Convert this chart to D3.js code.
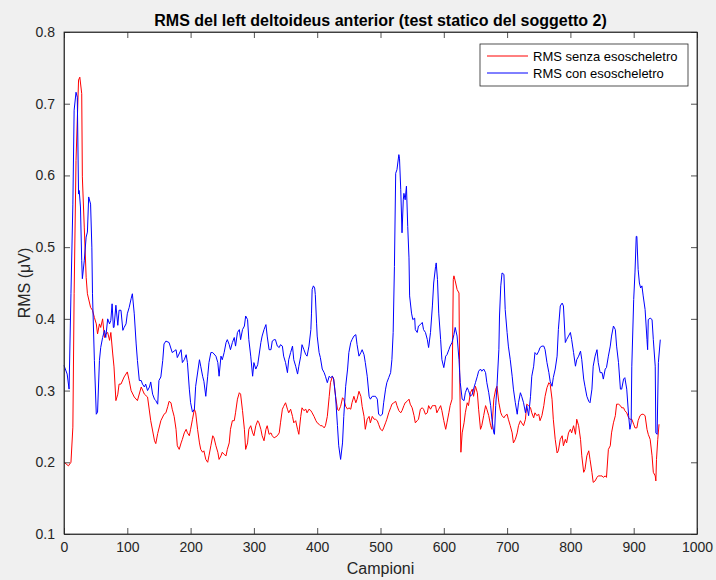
<!DOCTYPE html>
<html>
<head>
<meta charset="utf-8">
<script src="https://d3js.org/d3.v7.min.js"></script>
<style>
  body { margin: 0; background: #f0f0f0; }
  svg { display: block; font-family: "Liberation Sans", Arial, Helvetica, sans-serif; }
  .axis path, .axis line { stroke: #262626; stroke-width: 0.8; }
  .axis text { fill: #262626; font-size: 14px; }
</style>
</head>
<body>
<div id="chart"></div>
<script>
// [campione, RMS]
var rmsSenza = [
  [0,0.2],[3,0.198],[7,0.195],[11,0.2],[14,0.249],[16,0.435],[19,0.621],[23,0.733],[25,0.737],[28,0.714],
  [29,0.598],[32,0.528],[35,0.458],[37,0.435],[42,0.416],[45,0.412],[48,0.402],[51,0.393],[53,0.379],[56,0.393],
  [58,0.388],[61,0.4],[64,0.374],[66,0.379],[69,0.381],[72,0.37],[74,0.381],[77,0.351],[79,0.333],[82,0.286],
  [85,0.295],[87,0.309],[90,0.309],[95,0.319],[100,0.326],[103,0.314],[106,0.3],[111,0.291],[116,0.286],[122,0.305],
  [127,0.295],[132,0.291],[137,0.258],[143,0.23],[145,0.226],[148,0.24],[153,0.258],[158,0.267],
  [161,0.269],[164,0.278],[166,0.285],[169,0.283],[171,0.274],[174,0.264],[177,0.246],[179,0.223],[182,0.218],[185,0.227],
  [187,0.232],[190,0.241],[193,0.246],[195,0.241],[198,0.237],[200,0.246],[203,0.26],[206,0.274],[208,0.269],[211,0.246],
  [214,0.227],[216,0.218],[219,0.214],[221,0.216],[224,0.204],[227,0.2],[229,0.209],[232,0.223],[235,0.237],[237,0.234],
  [240,0.223],[243,0.214],[245,0.204],[248,0.209],[250,0.214],[253,0.211],[256,0.209],[258,0.218],[261,0.227],[263,0.246],
  [266,0.258],[269,0.258],[271,0.269],[274,0.288],[277,0.297],[279,0.295],[282,0.272],[285,0.246],[287,0.218],[290,0.227],
  [292,0.246],[295,0.251],[298,0.241],[300,0.237],[303,0.251],[306,0.258],[308,0.255],[311,0.246],[313,0.237],[316,0.23],
  [319,0.246],[321,0.251],[324,0.239],
  [327,0.241],[329,0.237],[332,0.234],[337,0.237],[340,0.241],[342,0.255],[345,0.274],[347,0.278],[350,0.283],[353,0.274],
  [355,0.269],[358,0.274],[361,0.264],[363,0.255],[366,0.258],[369,0.246],[371,0.239],[374,0.264],[376,0.276],[379,0.272],
  [382,0.274],[384,0.269],[387,0.274],[390,0.272],[392,0.269],[395,0.264],[398,0.258],[400,0.255],[403,0.253],[405,0.251],
  [408,0.251],[411,0.248],[413,0.251],[416,0.264],[419,0.292],[421,0.311],[424,0.32],[426,0.316],[429,0.292],[432,0.274],
  [434,0.272],[437,0.278],[440,0.29],[442,0.288],[445,0.278],[448,0.274],[450,0.276],[453,0.274],[455,0.283],[458,0.292],
  [461,0.283],[463,0.288],[466,0.299],[469,0.292],[471,0.278],[474,0.264],[476,0.246],[479,0.26],[482,0.264],[484,0.255],
  [487,0.264],[490,0.26],
  [492,0.26],[495,0.258],[497,0.253],[500,0.246],[503,0.244],[505,0.248],[508,0.255],[510,0.26],[513,0.269],[516,0.276],
  [518,0.281],[521,0.283],[524,0.285],[526,0.279],[529,0.272],[532,0.269],[534,0.272],[537,0.279],[539,0.283],[542,0.285],
  [545,0.288],[547,0.281],[550,0.276],[553,0.265],[555,0.255],[558,0.258],[560,0.26],[563,0.274],[566,0.276],[568,0.274],
  [571,0.267],[574,0.269],[576,0.279],[579,0.274],[582,0.279],[584,0.279],[587,0.279],[589,0.269],[592,0.274],[595,0.279],
  [597,0.272],[600,0.258],[603,0.246],[605,0.255],[608,0.269],[610,0.279],[613,0.288],[615,0.455],[616,0.46],[618,0.453],
  [621,0.441],[624,0.436],[625,0.325],[627,0.214],[629,0.241],[632,0.255],[634,0.269],[637,0.283],[639,0.279],[642,0.297],
  [645,0.302],[647,0.292],[650,0.306],[653,0.297],[655,0.274],
  [658,0.246],[660,0.251],[663,0.265],[666,0.279],[668,0.274],[671,0.265],[674,0.251],[676,0.246],[679,0.288],[682,0.302],
  [684,0.306],[687,0.283],[690,0.269],[692,0.265],[695,0.262],[697,0.265],[700,0.267],[702,0.26],[705,0.251],[708,0.241],
  [710,0.227],[713,0.232],[716,0.241],[718,0.251],[721,0.258],[723,0.255],[726,0.251],[729,0.26],[731,0.281],[734,0.279],
  [737,0.276],[739,0.269],[742,0.262],[744,0.269],[747,0.265],[750,0.267],[752,0.258],[755,0.265],[758,0.279],[760,0.292],
  [763,0.304],[766,0.311],[768,0.309],[771,0.288],[773,0.26],[776,0.232],[779,0.213],[781,0.216],[784,0.232],[787,0.237],
  [789,0.223],[792,0.232],[794,0.227],[797,0.241],[800,0.246],[802,0.241],[805,0.251],[808,0.239],[810,0.26],[813,0.251],
  [816,0.232],[818,0.209],[821,0.186],
  [823,0.19],[826,0.209],[829,0.216],[831,0.204],[834,0.186],[836,0.172],[839,0.174],[842,0.179],[844,0.181],[847,0.181],
  [850,0.181],[852,0.179],[855,0.181],[857,0.179],[860,0.218],[863,0.223],[865,0.241],[868,0.255],[871,0.265],[873,0.281],
  [876,0.281],[879,0.279],[881,0.276],[884,0.276],[886,0.272],[889,0.269],[892,0.262],[894,0.26],[897,0.26],[900,0.253],
  [902,0.248],[905,0.248],[907,0.258],[910,0.265],[913,0.267],[915,0.267],[918,0.265],[921,0.246],[923,0.239],[926,0.232],
  [929,0.209],[931,0.186],[934,0.181],[935,0.174],[936,0.204],[938,0.232],[940,0.253]
];

var rmsCon = [
  [0,0.335],[5,0.323],[8,0.302],[11,0.435],[14,0.56],[16,0.691],[19,0.716],[21,0.709],[23,0.574],[24,0.579],
  [26,0.556],[28,0.481],[29,0.456],[32,0.481],[35,0.514],[37,0.521],[39,0.57],[42,0.56],[44,0.5],[45,0.435],
  [48,0.342],[51,0.267],[53,0.27],[56,0.342],[58,0.36],[61,0.374],[64,0.384],[66,0.374],[69,0.4],[72,0.393],
  [74,0.398],[76,0.421],[78,0.388],[79,0.388],[82,0.419],[85,0.391],[87,0.412],[90,0.412],[93,0.384],[95,0.388],
  [98,0.393],[100,0.407],[103,0.416],[106,0.428],[108,0.435],[111,0.407],[114,0.365],[116,0.342],[119,0.314],[122,0.314],
  [124,0.309],[127,0.305],[129,0.309],[132,0.3],[135,0.305],[137,0.312],[140,0.295],[143,0.288],[145,0.286],[148,0.281],
  [150,0.314],[153,0.319],[156,0.342],[158,0.365],
  [161,0.369],[166,0.367],[171,0.353],[177,0.357],[179,0.346],[185,0.357],[187,0.339],[190,0.343],[193,0.35],[195,0.339],
  [198,0.302],[200,0.283],[203,0.27],[206,0.274],[208,0.306],[214,0.343],[216,0.334],[219,0.32],[221,0.313],[224,0.292],
  [227,0.32],[229,0.339],[232,0.353],[235,0.353],[240,0.348],[243,0.339],[245,0.32],[248,0.348],[250,0.343],[253,0.353],
  [256,0.367],[258,0.371],[261,0.364],[263,0.357],[266,0.367],[269,0.374],[271,0.362],[274,0.381],[277,0.385],[279,0.371],
  [282,0.385],[285,0.39],[287,0.404],[290,0.399],[292,0.371],[295,0.348],[298,0.32],[300,0.339],[303,0.33],[306,0.336],
  [311,0.367],[313,0.376],[316,0.385],[319,0.392],[321,0.376],[324,0.357],
  [327,0.357],[329,0.369],[332,0.371],[334,0.371],[337,0.362],[340,0.36],[342,0.364],[345,0.362],[347,0.348],[350,0.339],
  [353,0.325],[355,0.343],[358,0.353],[361,0.362],[363,0.343],[366,0.334],[369,0.323],[371,0.334],[374,0.348],[376,0.364],
  [379,0.357],[382,0.35],[384,0.348],[387,0.362],[390,0.385],[391,0.408],[392,0.441],[394,0.446],[396,0.443],[397,0.434],
  [399,0.394],[400,0.376],[403,0.353],[405,0.346],[408,0.33],[411,0.325],[413,0.32],[416,0.311],[419,0.32],[421,0.318],
  [424,0.32],[426,0.316],[429,0.292],[432,0.251],[434,0.223],[437,0.204],[440,0.227],[442,0.264],[445,0.306],[448,0.33],
  [450,0.353],[453,0.367],[455,0.371],[458,0.376],[461,0.378],[463,0.364],[466,0.348],[469,0.353],[471,0.357],[474,0.35],
  [476,0.339],[479,0.32],[482,0.292],[484,0.288],[487,0.292],[490,0.292],
  [492,0.292],[495,0.288],[497,0.267],[500,0.265],[503,0.267],[505,0.283],[508,0.302],[510,0.311],[513,0.318],[516,0.325],
  [518,0.343],[520,0.381],[522,0.473],[524,0.603],[526,0.608],[529,0.629],[530,0.624],[532,0.58],[534,0.52],[536,0.566],
  [537,0.575],[539,0.566],[541,0.585],[543,0.529],[545,0.485],[546,0.432],[549,0.408],[551,0.399],[554,0.401],[555,0.385],
  [558,0.381],[560,0.39],[563,0.392],[566,0.395],[568,0.385],[571,0.381],[574,0.371],[576,0.36],[579,0.381],[582,0.418],
  [584,0.45],[587,0.473],[588,0.478],[590,0.455],[592,0.408],[595,0.371],[597,0.343],[600,0.332],[603,0.348],[605,0.35],
  [608,0.357],[610,0.362],[613,0.367],[616,0.378],[618,0.388],[621,0.376],[624,0.343],[626,0.311],[629,0.288],[632,0.286],
  [634,0.297],[637,0.304],[639,0.3],[642,0.292],[645,0.295],[647,0.302],[650,0.311],[653,0.32],[655,0.327],
  [658,0.33],[660,0.327],[663,0.33],[666,0.325],[668,0.311],[671,0.297],[674,0.279],[676,0.26],[679,0.241],[680,0.239],
  [682,0.279],[684,0.306],[687,0.357],[688,0.404],[690,0.446],[692,0.464],[695,0.462],[697,0.413],[700,0.381],[702,0.362],
  [705,0.343],[708,0.32],[710,0.302],[713,0.283],[716,0.267],[718,0.283],[721,0.297],[723,0.292],[726,0.283],[729,0.269],
  [731,0.279],[734,0.265],[737,0.292],[739,0.32],[742,0.334],[744,0.353],[747,0.35],[750,0.355],[752,0.36],[755,0.362],
  [758,0.362],[760,0.357],[763,0.339],[766,0.325],[768,0.313],[771,0.306],[773,0.318],[776,0.33],[779,0.348],[781,0.385],
  [784,0.418],[787,0.422],[789,0.418],[792,0.367],[794,0.371],[797,0.376],[800,0.381],[802,0.371],[805,0.353],[808,0.334],
  [810,0.343],[813,0.348],[816,0.355],[818,0.343],[821,0.316],
  [823,0.306],[826,0.292],[829,0.285],[831,0.283],[834,0.302],[836,0.334],[839,0.348],[842,0.357],[844,0.339],[847,0.325],
  [850,0.325],[852,0.316],[855,0.33],[857,0.332],[860,0.348],[863,0.362],[865,0.376],[868,0.39],[871,0.385],[873,0.362],
  [876,0.339],[879,0.302],[881,0.302],[884,0.316],[886,0.318],[889,0.302],[892,0.265],[894,0.246],[896,0.255],[897,0.334],
  [900,0.427],[902,0.464],[904,0.515],[905,0.515],[907,0.469],[909,0.45],[911,0.443],[913,0.446],[915,0.432],[918,0.413],
  [921,0.371],[922,0.357],[923,0.399],[926,0.401],[929,0.399],[931,0.371],[934,0.334],[935,0.241],[937,0.239],[939,0.339],
  [942,0.371]
];

var serieNomi = ["RMS senza esoscheletro", "RMS con esoscheletro"];
var serieColori = ["#ff0000", "#0000ff"];
var campioniTicks = [0, 100, 200, 300, 400, 500, 600, 700, 800, 900, 1000];
var rmsTicks = [0.1, 0.2, 0.3, 0.4, 0.5, 0.6, 0.7, 0.8];

(function() {
  var margin = { top: 32, left: 64, right: 19, bottom: 46 },
    width = 716 - margin.left - margin.right,
    height = 580 - margin.top - margin.bottom;

  var svg = d3.select("#chart")
    .append("svg")
    .attr("width", 716)
    .attr("height", 580);

  svg.append("rect")
    .attr("width", 716).attr("height", 580)
    .attr("fill", "#f0f0f0");

  var g = svg.append("g")
    .attr("transform", "translate(" + margin.left + "," + margin.top + ")");

  var xPositionScale = d3.scaleLinear().domain([0, 1000]).range([0, width]);
  var yPositionScale = d3.scaleLinear().domain([0.1, 0.8]).range([height, 0]);

  g.append("rect")
    .attr("width", width).attr("height", height)
    .attr("fill", "white");

  var line = d3.line()
    .x(function(d) { return xPositionScale(d[0]); })
    .y(function(d) { return yPositionScale(d[1]); });

  // rossa prima, blu sopra
  [rmsSenza, rmsCon].forEach(function(serie, i) {
    g.append("path")
      .datum(serie)
      .attr("d", line)
      .attr("fill", "none")
      .attr("stroke", serieColori[i])
      .attr("stroke-width", 1)
      .attr("stroke-linejoin", "round");
  });

  // assi con tick verso l'interno
  var xAxis = d3.axisBottom(xPositionScale).tickValues(campioniTicks)
    .tickFormat(d3.format("d"))
    .tickSizeInner(-6).tickSizeOuter(0).tickPadding(8);
  g.append("g")
    .attr("class", "axis x-axis")
    .attr("transform", "translate(0," + height + ")")
    .call(xAxis);

  var yAxis = d3.axisLeft(yPositionScale).tickValues(rmsTicks)
    .tickFormat(d3.format(".1f"))
    .tickSizeInner(-6).tickSizeOuter(0).tickPadding(9);
  g.append("g")
    .attr("class", "axis y-axis")
    .call(yAxis);

  g.append("g")
    .attr("class", "axis")
    .call(d3.axisTop(xPositionScale).tickValues(campioniTicks)
      .tickSizeInner(-6).tickSizeOuter(0).tickFormat(""));

  g.append("g")
    .attr("class", "axis")
    .attr("transform", "translate(" + width + ",0)")
    .call(d3.axisRight(yPositionScale).tickValues(rmsTicks)
      .tickSizeInner(-6).tickSizeOuter(0).tickFormat(""));

  g.append("rect")
    .attr("width", width).attr("height", height)
    .attr("fill", "none")
    .attr("stroke", "#262626")
    .attr("stroke-width", 0.8);

  // titolo ed etichette
  svg.append("text")
    .attr("x", margin.left + width / 2)
    .attr("y", 26)
    .attr("text-anchor", "middle")
    .attr("font-size", "16px")
    .attr("font-weight", "bold")
    .attr("fill", "#000")
    .text("RMS del left deltoideus anterior (test statico del soggetto 2)");

  svg.append("text")
    .attr("x", margin.left + width / 2)
    .attr("y", 574)
    .attr("text-anchor", "middle")
    .attr("font-size", "16px")
    .attr("fill", "#262626")
    .text("Campioni");

  svg.append("text")
    .attr("transform", "translate(30," + (margin.top + height / 2) + ") rotate(-90)")
    .attr("text-anchor", "middle")
    .attr("font-size", "16px")
    .attr("fill", "#262626")
    .text("RMS (\u03BCV)");

  // legenda
  var legend = svg.append("g")
    .attr("transform", "translate(480,44)");

  legend.append("rect")
    .attr("width", 208).attr("height", 42)
    .attr("fill", "white")
    .attr("stroke", "#262626")
    .attr("stroke-width", 0.8);

  serieNomi.forEach(function(nome, i) {
    var yy = 12 + i * 17;
    legend.append("line")
      .attr("x1", 7).attr("x2", 48)
      .attr("y1", yy).attr("y2", yy)
      .attr("stroke", serieColori[i])
      .attr("stroke-width", 1);
    legend.append("text")
      .attr("x", 53).attr("y", yy)
      .attr("dy", "0.35em")
      .attr("font-size", "13px")
      .attr("fill", "#000")
      .text(nome);
  });
})();
</script>
</body>
</html>
